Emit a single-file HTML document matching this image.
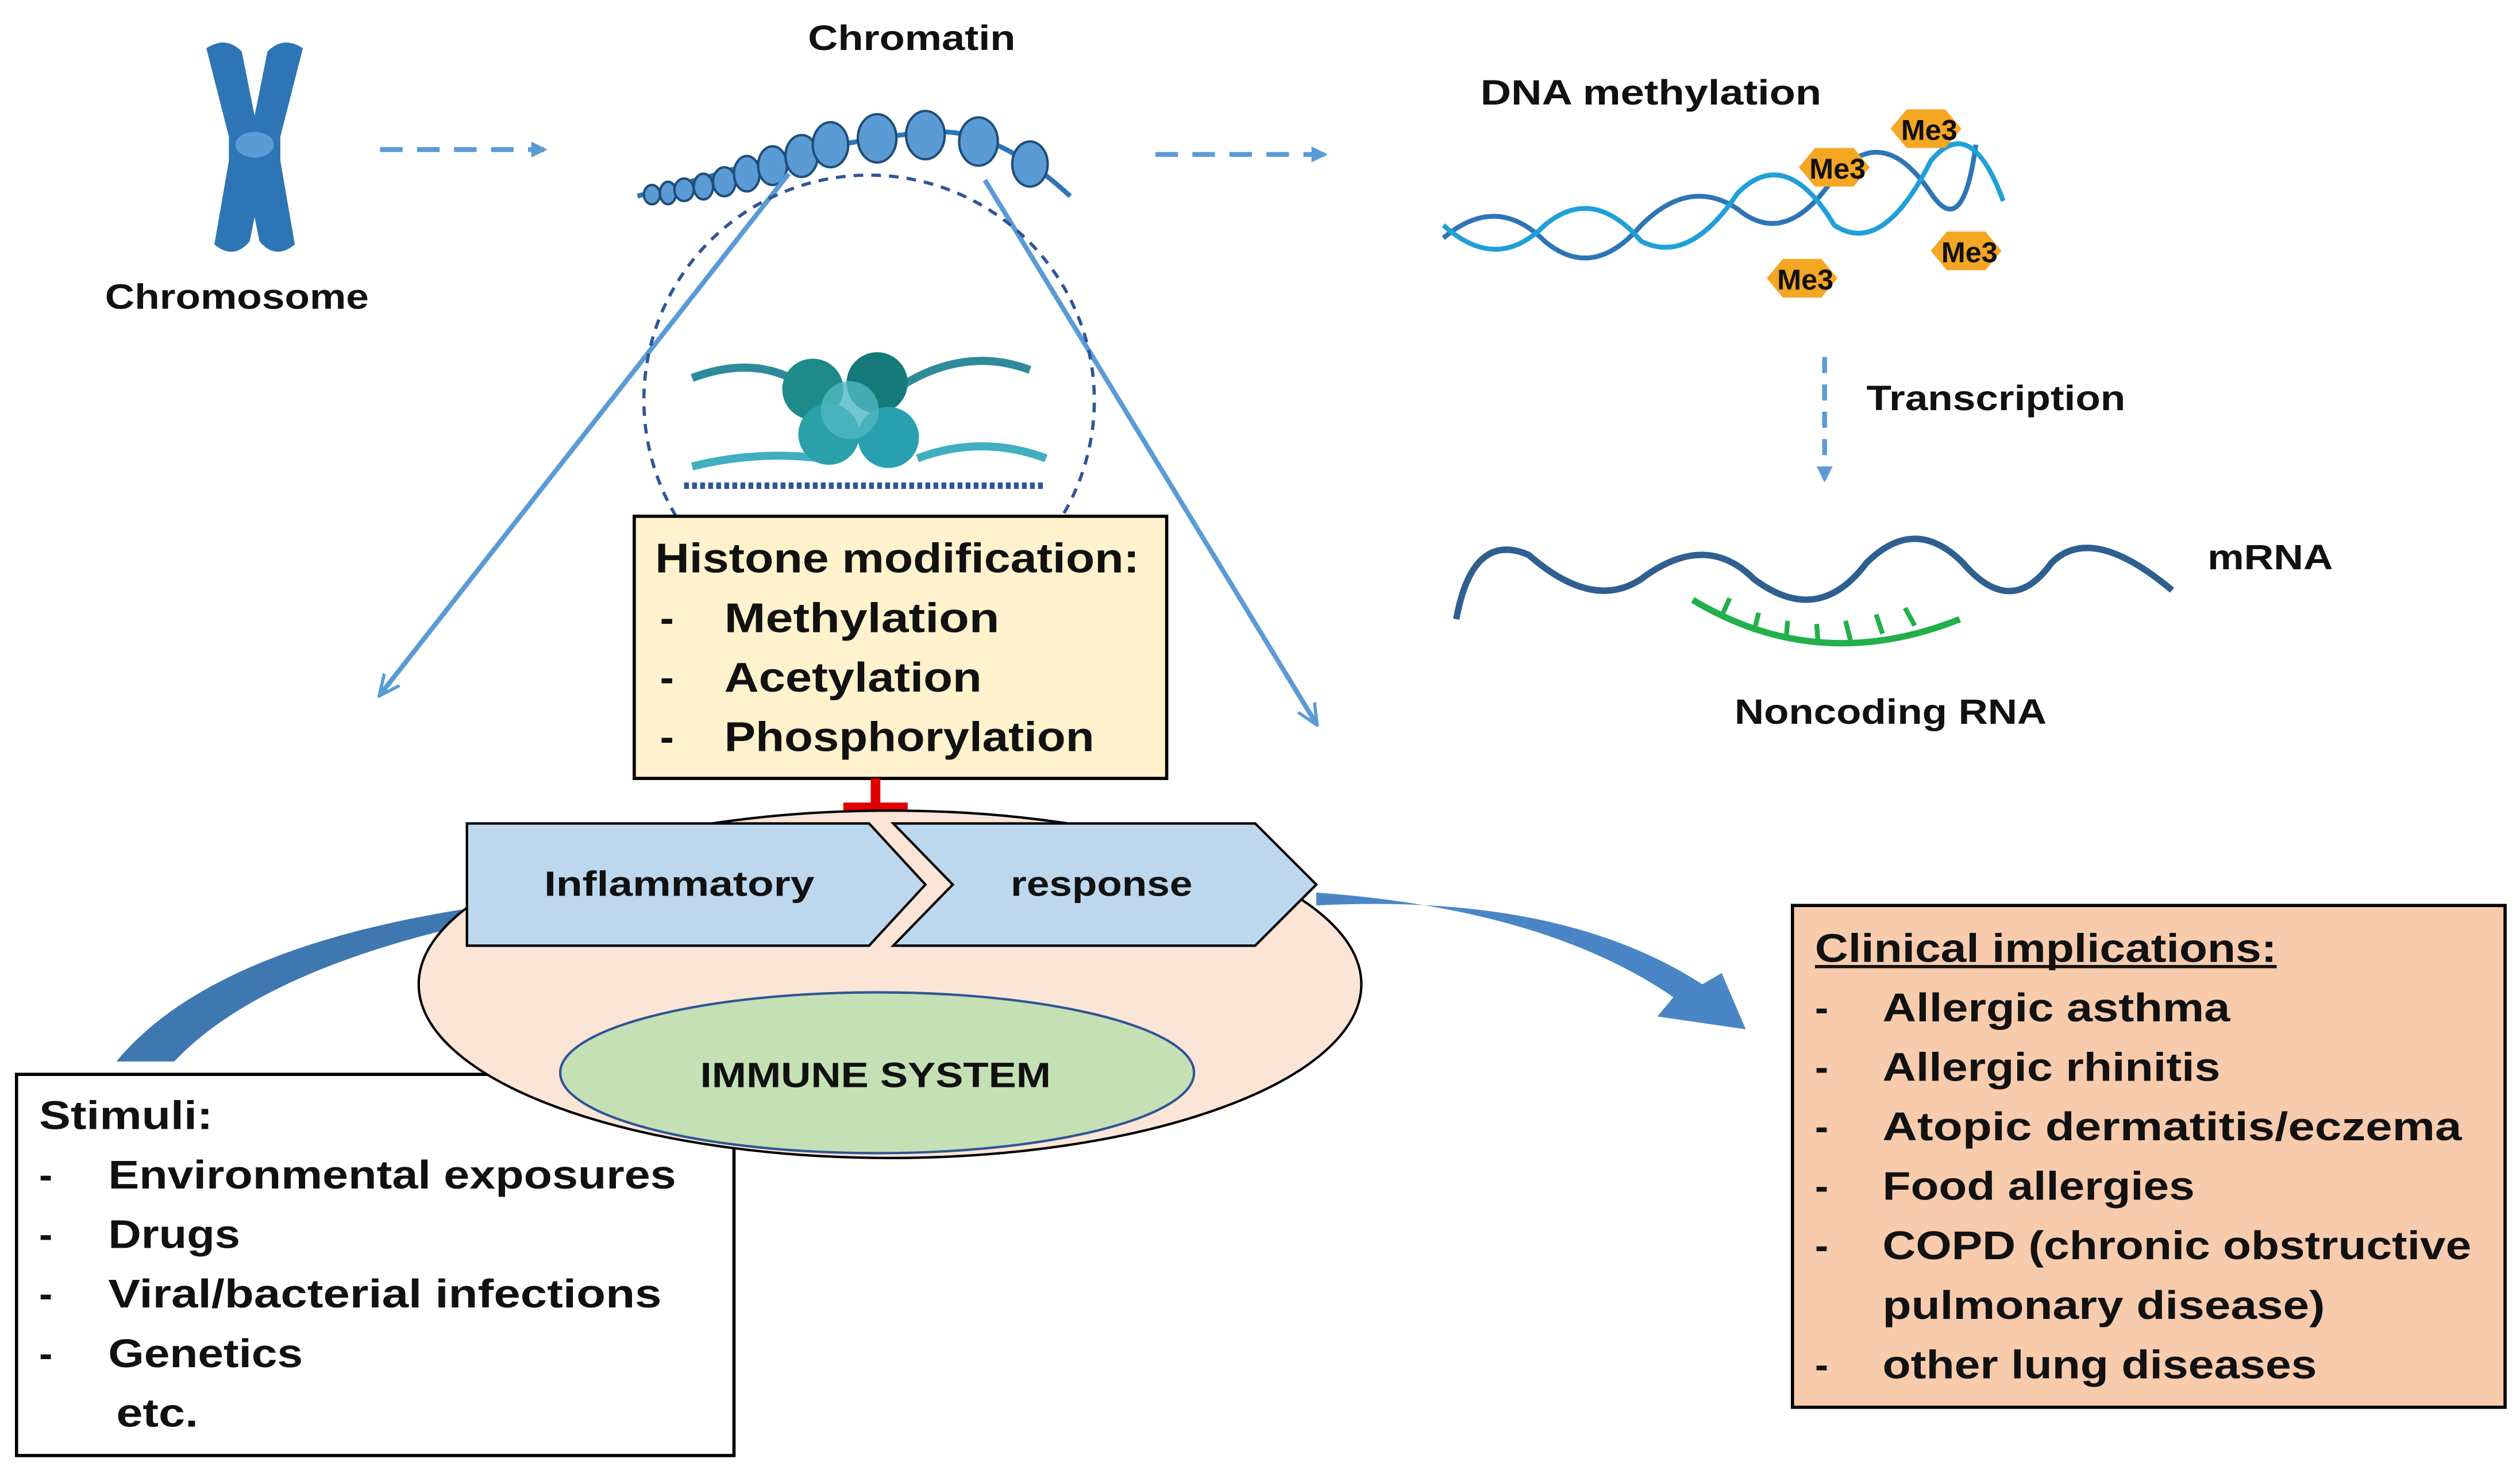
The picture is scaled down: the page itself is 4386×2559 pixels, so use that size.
<!DOCTYPE html>
<html><head><meta charset="utf-8"><style>
html,body{margin:0;padding:0;background:#fff;}
svg{display:block;}
text{font-family:"Liberation Sans",Arial,sans-serif;font-weight:bold;fill:#111;}
</style></head><body>
<svg width="4386" height="2559" viewBox="0 0 1566 914" xmlns="http://www.w3.org/2000/svg">
<defs>
<marker id="ah" markerWidth="10" markerHeight="10" refX="8" refY="5" orient="auto" markerUnits="userSpaceOnUse"><path d="M0,0 L10,5 L0,10 z" fill="#5b9bd5"/></marker>
<marker id="ah2" markerWidth="14" markerHeight="14" refX="12" refY="7" orient="auto" markerUnits="userSpaceOnUse"><path d="M0,1 L13,7 L0,13" fill="none" stroke="#5b9bd5" stroke-width="2"/></marker>
</defs>

<!-- Chromosome -->
<g fill="#2e75b6">
<path d="M128,30 Q140,22 150,32 L160,82 L165,100 L155,150 Q145,162 133,152 L142,100 L142,85 Z"/>
<path d="M188,30 Q176,22 166,32 L156,82 L151,100 L161,150 Q171,162 183,152 L174,100 L174,85 Z"/>
<ellipse cx="158" cy="90" rx="12" ry="8" fill="#5b9bd5"/>
</g>
<text x="65" y="192" font-size="22" textLength="164" lengthAdjust="spacingAndGlyphs">Chromosome</text>

<!-- dashed arrows -->
<line x1="236" y1="93" x2="338" y2="93" stroke="#5b9bd5" stroke-width="3" stroke-dasharray="14,9" marker-end="url(#ah)"/>
<line x1="718" y1="96" x2="823" y2="96" stroke="#5b9bd5" stroke-width="3" stroke-dasharray="14,9" marker-end="url(#ah)"/>

<!-- Chromatin -->
<text x="502" y="31" font-size="22" textLength="129" lengthAdjust="spacingAndGlyphs">Chromatin</text>
<g fill="none" stroke="#2e75b6" stroke-width="3">
<path d="M396,122 Q420,115 440,110 Q470,100 500,95 Q540,85 580,82 Q620,80 665,122"/>
</g>
<g fill="#5b9bd5" stroke="#1f4e79" stroke-width="1.5">
<ellipse cx="405" cy="121" rx="5" ry="6"/><ellipse cx="415" cy="120" rx="5" ry="7"/><ellipse cx="425" cy="118" rx="6" ry="7"/><ellipse cx="437" cy="116" rx="6" ry="8"/><ellipse cx="450" cy="113" rx="7" ry="9"/><ellipse cx="464" cy="108" rx="8" ry="11"/><ellipse cx="480" cy="103" rx="9" ry="12"/><ellipse cx="498" cy="97" rx="10" ry="13"/><ellipse cx="516" cy="90" rx="11" ry="14"/><ellipse cx="545" cy="86" rx="12" ry="15"/><ellipse cx="575" cy="84" rx="12" ry="15"/><ellipse cx="608" cy="88" rx="12" ry="15"/><ellipse cx="640" cy="102" rx="11" ry="14"/>
</g>

<!-- connection lines -->
<line x1="490" y1="108" x2="236" y2="432" stroke="#5b9bd5" stroke-width="3" marker-end="url(#ah2)"/>
<line x1="612" y1="112" x2="818" y2="450" stroke="#5b9bd5" stroke-width="3" marker-end="url(#ah2)"/>

<!-- dashed circle -->
<path d="M420,321 A140,140 0 1 1 660,321" fill="none" stroke="#2f5597" stroke-width="2" stroke-dasharray="6,5"/>
<!-- nucleosome -->
<g>
<line x1="425" y1="302" x2="650" y2="302" stroke="#2f5597" stroke-width="4" stroke-dasharray="3,2"/>
<path d="M430,235 Q470,220 500,240 M560,240 Q600,215 640,230" stroke="#2e8b9a" stroke-width="5" fill="none"/>
<path d="M430,290 Q470,280 510,285 M570,285 Q610,270 650,285" stroke="#40b0c0" stroke-width="5" fill="none"/>
<circle cx="505" cy="242" r="19" fill="#1f8a8a"/><circle cx="545" cy="238" r="19" fill="#177a7a"/>
<circle cx="515" cy="270" r="19" fill="#2aa0a8"/><circle cx="552" cy="272" r="19" fill="#28a0b0"/>
<circle cx="528" cy="255" r="18" fill="#4fb8c0" opacity="0.8"/>
</g>

<!-- Histone box -->
<rect x="394" y="321" width="331" height="163" fill="#fff2cc" stroke="#000" stroke-width="2"/>
<text x="407" y="356" font-size="26" textLength="301" lengthAdjust="spacingAndGlyphs">Histone modification:</text>
<text x="410" y="393" font-size="26">-</text><text x="450" y="393" font-size="26" textLength="171" lengthAdjust="spacingAndGlyphs">Methylation</text>
<text x="410" y="430" font-size="26">-</text><text x="450" y="430" font-size="26" textLength="160" lengthAdjust="spacingAndGlyphs">Acetylation</text>
<text x="410" y="467" font-size="26">-</text><text x="450" y="467" font-size="26" textLength="230" lengthAdjust="spacingAndGlyphs">Phosphorylation</text>

<!-- red T -->
<line x1="544" y1="484" x2="544" y2="503" stroke="#e00000" stroke-width="6"/>
<line x1="524" y1="503" x2="564" y2="503" stroke="#e00000" stroke-width="8"/>

<!-- left curved arrow -->
<path d="M290,565 Q130,590 72,660 L108,660 Q160,605 290,575 Z" fill="#3f77b0"/>

<!-- Stimuli box -->
<rect x="10" y="668" width="446" height="237" fill="#fff" stroke="#000" stroke-width="2"/>
<text x="24" y="702" font-size="25" textLength="108" lengthAdjust="spacingAndGlyphs">Stimuli:</text>
<text x="24" y="739" font-size="25">-</text><text x="67" y="739" font-size="25" textLength="353" lengthAdjust="spacingAndGlyphs">Environmental exposures</text>
<text x="24" y="776" font-size="25">-</text><text x="67" y="776" font-size="25" textLength="82" lengthAdjust="spacingAndGlyphs">Drugs</text>
<text x="24" y="813" font-size="25">-</text><text x="67" y="813" font-size="25" textLength="344" lengthAdjust="spacingAndGlyphs">Viral/bacterial infections</text>
<text x="24" y="850" font-size="25">-</text><text x="67" y="850" font-size="25" textLength="121" lengthAdjust="spacingAndGlyphs">Genetics</text>
<text x="72" y="887" font-size="25" textLength="51" lengthAdjust="spacingAndGlyphs">etc.</text>

<!-- ellipses -->
<ellipse cx="553" cy="612" rx="293" ry="108" fill="#fbe5d6" stroke="#000" stroke-width="1.5"/>
<ellipse cx="545" cy="667" rx="197" ry="50" fill="#c5e0b4" stroke="#2f5597" stroke-width="1.5"/>
<text x="435" y="676" font-size="22" textLength="218" lengthAdjust="spacingAndGlyphs">IMMUNE SYSTEM</text>

<!-- chevrons -->
<path d="M290,512 L540,512 L575,550 L540,588 L290,588 Z" fill="#bdd7ee" stroke="#000" stroke-width="1.5"/>
<path d="M555,512 L780,512 L818,550 L780,588 L555,588 L592,550 Z" fill="#bdd7ee" stroke="#000" stroke-width="1.5"/>
<text x="338" y="557" font-size="22" textLength="168" lengthAdjust="spacingAndGlyphs">Inflammatory</text>
<text x="628" y="557" font-size="22" textLength="113" lengthAdjust="spacingAndGlyphs">response</text>

<!-- right curved arrow -->
<path d="M818,555 Q960,565 1040,620 L1030,632 L1085,640 L1070,605 L1058,612 Q970,555 818,563 Z" fill="#4a86c5"/>

<!-- DNA methylation -->
<text x="920" y="65" font-size="22" textLength="212" lengthAdjust="spacingAndGlyphs">DNA methylation</text>
<g fill="none" stroke-width="3">
<path d="M897,148 Q930,120 960,150 Q990,175 1020,140 Q1050,110 1080,130 Q1110,155 1140,110 Q1170,75 1200,120 Q1220,150 1228,90" stroke="#2e75b6"/>
<path d="M897,140 Q930,170 960,140 Q990,115 1020,150 Q1050,165 1080,120 Q1110,90 1140,140 Q1170,160 1200,100 Q1225,70 1245,125" stroke="#1fa0d8"/>
</g>
<g fill="#f5a623">
<polygon points="1185,68 1209,68 1219,80 1209,92 1185,92 1175,80"/>
<polygon points="1128,92 1152,92 1162,104 1152,116 1128,116 1118,104"/>
<polygon points="1210,144 1234,144 1244,156 1234,168 1210,168 1200,156"/>
<polygon points="1108,161 1132,161 1142,173 1132,185 1108,185 1098,173"/>
</g>
<text x="1199" y="87" font-size="18" text-anchor="middle">Me3</text>
<text x="1142" y="111" font-size="18" text-anchor="middle">Me3</text>
<text x="1224" y="163" font-size="18" text-anchor="middle">Me3</text>
<text x="1122" y="180" font-size="18" text-anchor="middle">Me3</text>

<!-- Transcription -->
<line x1="1134" y1="222" x2="1134" y2="298" stroke="#5b9bd5" stroke-width="3" stroke-dasharray="10,7" marker-end="url(#ah)"/>
<text x="1160" y="255" font-size="22" textLength="161" lengthAdjust="spacingAndGlyphs">Transcription</text>

<!-- mRNA -->
<path d="M905,385 Q915,330 950,345 Q990,380 1020,360 Q1060,330 1090,360 Q1130,390 1160,350 Q1190,320 1220,350 Q1250,385 1275,350 Q1300,325 1350,367" fill="none" stroke="#2f5f8f" stroke-width="4"/>
<text x="1372" y="354" font-size="22" textLength="78" lengthAdjust="spacingAndGlyphs">mRNA</text>
<path d="M1052,373 Q1130,420 1218,385" fill="none" stroke="#22b04a" stroke-width="4"/>
<g stroke="#22b04a" stroke-width="3">
<line x1="1070" y1="383" x2="1075" y2="372"/><line x1="1090" y1="393" x2="1093" y2="381"/><line x1="1110" y1="398" x2="1111" y2="386"/><line x1="1130" y1="400" x2="1129" y2="388"/><line x1="1150" y1="398" x2="1147" y2="386"/><line x1="1170" y1="394" x2="1166" y2="382"/><line x1="1190" y1="389" x2="1184" y2="378"/>
</g>
<text x="1078" y="450" font-size="22" textLength="194" lengthAdjust="spacingAndGlyphs">Noncoding RNA</text>

<!-- Clinical box -->
<rect x="1114" y="563" width="443" height="312" fill="#f8cbad" stroke="#000" stroke-width="2"/>
<text x="1128" y="598" font-size="25" textLength="287" lengthAdjust="spacingAndGlyphs">Clinical implications:</text>
<line x1="1128" y1="601" x2="1415" y2="601" stroke="#111" stroke-width="2"/>
<text x="1128" y="635" font-size="25">-</text><text x="1170" y="635" font-size="25" textLength="216" lengthAdjust="spacingAndGlyphs">Allergic asthma</text>
<text x="1128" y="672" font-size="25">-</text><text x="1170" y="672" font-size="25" textLength="210" lengthAdjust="spacingAndGlyphs">Allergic rhinitis</text>
<text x="1128" y="709" font-size="25">-</text><text x="1170" y="709" font-size="25" textLength="360" lengthAdjust="spacingAndGlyphs">Atopic dermatitis/eczema</text>
<text x="1128" y="746" font-size="25">-</text><text x="1170" y="746" font-size="25" textLength="194" lengthAdjust="spacingAndGlyphs">Food allergies</text>
<text x="1128" y="783" font-size="25">-</text><text x="1170" y="783" font-size="25" textLength="366" lengthAdjust="spacingAndGlyphs">COPD (chronic obstructive</text>
<text x="1170" y="820" font-size="25" textLength="275" lengthAdjust="spacingAndGlyphs">pulmonary disease)</text>
<text x="1128" y="857" font-size="25">-</text><text x="1170" y="857" font-size="25" textLength="270" lengthAdjust="spacingAndGlyphs">other lung diseases</text>
</svg>
</body></html>
